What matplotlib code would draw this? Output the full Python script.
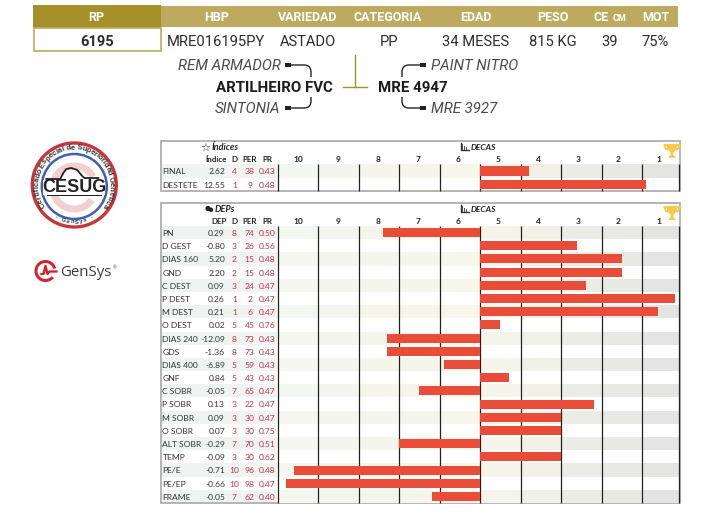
import numpy as np
import matplotlib
matplotlib.use("Agg")
import matplotlib.pyplot as plt
from matplotlib.font_manager import FontProperties
from matplotlib.patches import Circle, Rectangle, Polygon, Wedge, PathPatch
from matplotlib.path import Path
from matplotlib.textpath import TextPath

W, H = 702, 525

header_labels = ["HBP", "VARIEDAD", "CATEGORIA", "EDAD", "PESO", "CE", "MOT"]
header_values = ["MRE016195PY", "ASTADO", "PP", "34 MESES", "815 KG", "39", "75%"]
rp_value = "6195"

deca_labels = ["10", "9", "8", "7", "6", "5", "4", "3", "2", "1"]

index_names = ["FINAL", "DESTETE"]
index_vals = ["2.62", "12.55"]
index_d = [4, 1]
index_per = [38, 9]
index_pr = ["0.43", "0.48"]

dep_names = ["PN", "D GEST", "DIAS 160", "GND", "C DEST", "P DEST", "M DEST", "O DEST",
             "DIAS 240", "GDS", "DIAS 400", "GNF", "C SOBR", "P SOBR", "M SOBR", "O SOBR",
             "ALT SOBR", "TEMP", "PE/E", "PE/EP", "FRAME"]
dep_vals = ["0.29", "-0.80", "5.20", "2.20", "0.09", "0.26", "0.21", "0.02",
            "-12.09", "-1.36", "-6.89", "0.84", "-0.05", "0.13", "0.09", "0.07",
            "-0.29", "-0.09", "-0.71", "-0.66", "-0.05"]
dep_d = [8, 3, 2, 2, 3, 1, 1, 5, 8, 8, 5, 5, 7, 3, 3, 3, 7, 3, 10, 10, 7]
dep_per = [74, 26, 15, 15, 24, 2, 6, 45, 73, 73, 59, 43, 65, 22, 30, 30, 70, 30, 96, 98, 62]
dep_pr = ["0.50", "0.56", "0.48", "0.48", "0.47", "0.47", "0.47", "0.76",
          "0.43", "0.43", "0.43", "0.43", "0.47", "0.47", "0.47", "0.75",
          "0.51", "0.62", "0.48", "0.47", "0.40"]

GOLD_D = "#a59029"
GOLD_L = "#bdaa5f"
RED = "#ea4c3a"
NUM_RED = "#c8303f"
DARK = "#2b2b2b"
BORDER = "#a8a8a8"
COND = "Roboto"
TBL = ["Lato", "DejaVu Sans"]
band_cols = ["#f4f6f0", "#f4f5ee", "#f5f5ec", "#f5f5ec", "#f6f6ea",
             "#f4f4ea", "#f1f1e8", "#ecece6", "#e8e8e4", "#e4e4e3"]

fig = plt.figure(figsize=(W / 100, H / 100), dpi=100)
bg = fig.add_axes([0, 0, 1, 1])
bg.set_xlim(0, W)
bg.set_ylim(H, 0)
bg.axis("off")


def txt(x, y, s, size=8, ha="center", fam=TBL, color=DARK, weight="normal", style="normal", z=6):
    bg.text(x, y + 0.9, s, fontsize=size, ha=ha, va="center", family=fam, color=color,
            weight=weight, style=style, zorder=z)


# header
bg.add_patch(Rectangle((161, 6), 517, 21, fc=GOLD_L, ec="none"))
bg.add_patch(Rectangle((33, 5), 128, 23, fc=GOLD_D, ec="none"))
bg.add_patch(Rectangle((33.5, 28), 127.5, 23, fc="white", ec=GOLD_L, lw=1.2))
txt(96, 17, "RP", 9, fam=COND, color="white", weight="bold")
txt(97, 41, rp_value, 10.5, fam=COND, color=DARK, weight="bold")
head_x = [217, 307.5, 388, 476, 553, 601, 656]
val_x = [216, 307.5, 389, 476, 553, 610, 655]
for x, lab in zip(head_x, header_labels):
    txt(x, 17, lab, 9, fam=COND, color="white", weight="bold")
txt(620, 17.6, "CM", 6.5, fam=COND, color="white", weight="bold")
for x, v in zip(val_x, header_values):
    txt(x, 41, v, 10.6, fam=COND, color=DARK)

# pedigree
txt(281, 65, "REM ARMADOR", 10.8, ha="right", fam=COND, color="#4a4a4a", style="italic")
txt(280, 108, "SINTONIA", 10.8, ha="right", fam=COND, color="#4a4a4a", style="italic")
txt(431, 65, "PAINT NITRO", 10.8, ha="left", fam=COND, color="#4a4a4a", style="italic")
txt(431, 108, "MRE 3927", 10.8, ha="left", fam=COND, color="#4a4a4a", style="italic")
txt(333, 87, "ARTILHEIRO FVC", 10.8, ha="right", fam=COND, weight="bold", color="#1c1c1c")
txt(378, 87, "MRE 4947", 10.8, ha="left", fam=COND, weight="bold", color="#1c1c1c")
bg.plot([355, 355], [55, 87], color=GOLD_D, lw=1)
bg.plot([343, 367], [87, 87], color=GOLD_D, lw=1)


def connector(x0, y0, x1, y1):
    bg.add_patch(Rectangle((x0 - 3, y0 - 1.7), 6, 3.4, fc="#222222", ec="none"))
    verts = [(x0, y0), (x1 - np.sign(x1 - x0) * 7, y0), (x1, y0), (x1, y0 + np.sign(y1 - y0) * 7), (x1, y1)]
    codes = [Path.MOVETO, Path.LINETO, Path.CURVE3, Path.CURVE3, Path.LINETO]
    bg.add_patch(PathPatch(Path(verts, codes), fc="none", ec="#222222", lw=1))


connector(288, 65, 311, 77)
connector(288, 108, 311, 97)
connector(423, 65, 402, 77)
connector(423, 108, 402, 97)


def deca_icon(x, y):
    bg.plot([x, x, x + 8], [y - 4, y + 3.5, y + 3.5], color="#333333", lw=1)
    for dx, h in zip([2, 4, 6], [6, 4, 3]):
        bg.add_patch(Rectangle((x + dx - 0.8, y + 3.5 - h), 1.7, h, fc="#555555", ec="none"))


def panel(top, rows_top, bottom, names, vals, d, per, pr, head1):
    n = len(names)
    rh = (bottom - rows_top) / n
    bg.add_patch(Rectangle((160.7, top), 518.8, bottom - top, fc="none", ec=BORDER, lw=1.2, zorder=1))
    for i in range(0, n, 2):
        bg.add_patch(Rectangle((161.3, rows_top + i * rh), 116, rh, fc="#eff4f2", ec="none", zorder=0))
    ax = fig.add_axes([277.3 / W, 1 - bottom / H, 402.2 / W, (bottom - rows_top) / H])
    ax.set_xlim(100.1, 0.8)
    ax.set_ylim(n, 0)
    ax.axis("off")
    edges = np.arange(100, -1, -10)
    for i in range(0, n, 2):
        for j in range(10):
            ax.barh(i + 0.5, edges[j + 1] - edges[j], left=edges[j], height=1, color=band_cols[j], lw=0, zorder=1)
    ax.vlines(list(edges[:-1]) + [0.85], 0, n, color="#222222", lw=0.9, zorder=2, clip_on=False)
    ax.barh(np.arange(n) + 0.5, np.array(per) - 50, left=50, height=0.68, color=RED, lw=0, zorder=3)
    # column heads
    hy = rows_top - 5.5
    txt(471, top + 5.5, "DECAS", 6, ha="left", style="italic", weight="bold", color="#222222")
    deca_icon(460.5, top + 5.5)
    for j, lab in enumerate(deca_labels):
        txt(298 + 40.07 * j, hy, lab, 6, weight="bold", color="#222222")
    txt(227, hy, head1, 5.8, ha="right", weight="bold", color="#222222")
    txt(234.4, hy, "D", 5.8, weight="bold", color="#222222")
    txt(249.4, hy, "PER", 5.8, weight="bold", color="#222222")
    txt(267.3, hy, "PR", 5.8, weight="bold", color="#222222")
    for i in range(n):
        y = rows_top + (i + 0.5) * rh
        txt(162.5, y, names[i], 6.1, ha="left", color="#333333")
        txt(225, y, vals[i], 6.1, ha="right", color="#333333")
        txt(234.4, y, str(d[i]), 6.1, color=NUM_RED)
        txt(249.5, y, str(per[i]), 6.1, color=NUM_RED)
        txt(267.3, y, pr[i], 6.1, color=NUM_RED)


panel(141.3, 164.3, 191.3, index_names, index_vals, index_d, index_per, index_pr, "Índice")
panel(203.3, 226, 503, dep_names, dep_vals, dep_d, dep_per, dep_pr, "DEP")

# trophies sit above the panels, on a clear overlay
overlay = fig.add_axes([0, 0, 1, 1], facecolor="none")
overlay.set_xlim(0, W)
overlay.set_ylim(H, 0)
overlay.axis("off")
overlay.set_zorder(5)
for ty in [150.8, 213]:
    c = "#f7c948"
    overlay.add_patch(Polygon([(672 - 5, ty - 7), (672 + 5, ty - 7), (672 + 4, ty - 1), (672 + 1.3, ty + 2),
                               (672 + 1.3, ty + 4), (672 + 4, ty + 7), (672 - 4, ty + 7),
                               (672 - 1.3, ty + 4), (672 - 1.3, ty + 2), (672 - 4, ty - 1)], fc=c, ec="none"))
    for sgn in [-1, 1]:
        overlay.add_patch(Polygon([(672 + sgn * 7.5, ty - 6), (672 + sgn * 4.5, ty - 6), (672 + sgn * 4, ty - 1),
                                   (672 + sgn * 6.5, ty - 2.5)], fc="none", ec=c, lw=1.3))

txt(205, 146.5, "☆", 8, fam=["DejaVu Sans"], color="#222222")
txt(212, 147, "Índices", 6.6, ha="left", style="italic", weight="bold", color="#222222")
bg.add_patch(Circle((208, 208.5), 2.6, fc="#222222", ec="none"))
bg.add_patch(Circle((211, 209.8), 2.2, fc="#222222", ec="none"))
txt(215, 209, "DEPs", 6.6, ha="left", style="italic", weight="bold", color="#222222")

# CESUG seal
cx, cy = 74.3, 185
bg.add_patch(Circle((cx, cy), 42, fc="white", ec="#c8343a", lw=2.4))
bg.add_patch(Circle((cx, cy + 1.5), 32.5, fc="white", ec="#3f5fb0", lw=1.8))
bg.add_patch(Wedge((cx, cy + 2.5), 25, 35, 330, width=7, fc="#f3cfd0", ec="none"))

seal = "Certificado Especial de Superioridad Genética"
seal_font = FontProperties(family="Liberation Sans", weight="bold")
adv = np.array([TextPath((0, 0), ch + "|", size=6, prop=seal_font).get_extents().width
                - TextPath((0, 0), "|", size=6, prop=seal_font).get_extents().width for ch in seal])
adv = np.maximum(adv, 1.6)
mid = np.cumsum(adv) - adv / 2
angs = 216 - mid / mid[-1] * 249
for ch, a in zip(seal, angs):
    bg.text(cx + 37 * np.cos(np.radians(a)), cy - 37 * np.sin(np.radians(a)), ch, fontsize=5.5,
            rotation=a - 90, ha="center", va="center", rotation_mode="anchor",
            family="Liberation Sans", weight="bold", color="#333333")
low = "- GenSys -"
for ch, a in zip(low, np.linspace(240, 300, len(low))):
    bg.text(cx + 37 * np.cos(np.radians(a)), cy - 37 * np.sin(np.radians(a)), ch, fontsize=4.2,
            rotation=a + 90, ha="center", va="center", rotation_mode="anchor",
            family="Liberation Sans", weight="bold", color="#333333")
bg.add_patch(Rectangle((cx - 31, cy - 5), 62, 14.5, fc="white", ec="none", zorder=3))
bg.add_patch(Rectangle((cx - 27.5, cy + 9.5), 55, 1.6, fc="#222222", ec="none", zorder=4))
bg.plot(cx + np.array([-28, -14, -11, -8, -3, 3, 7, 10, 24]), cy + np.array([-6, -6, -12, -16, -17, -15, -10, -7, -7]),
        color="#222222", lw=1.3, zorder=4)
txt(cx + 0.5, cy + 1.6, "CESUG", 13, fam="Liberation Sans", weight="bold", color="#222222")

# GenSys logo
gx, gy = 45.5, 271
bg.add_patch(Wedge((gx, gy), 11, 40, 345, width=3, fc="#d2232a", ec="none"))
bg.plot(gx + np.array([-4, -2, 0, 2, 4, 11]), gy + np.array([3, 3, -5, 3, 0.5, 0.5]), color="#d2232a", lw=1.7)
txt(60, 272, "GenSys", 10.8, ha="left", fam=["Open Sans"], color="#3a3a3a")
txt(112.5, 266.5, "®", 3.4, ha="left", color="#555555")

fig.savefig("out.png", dpi=100, facecolor="white")
